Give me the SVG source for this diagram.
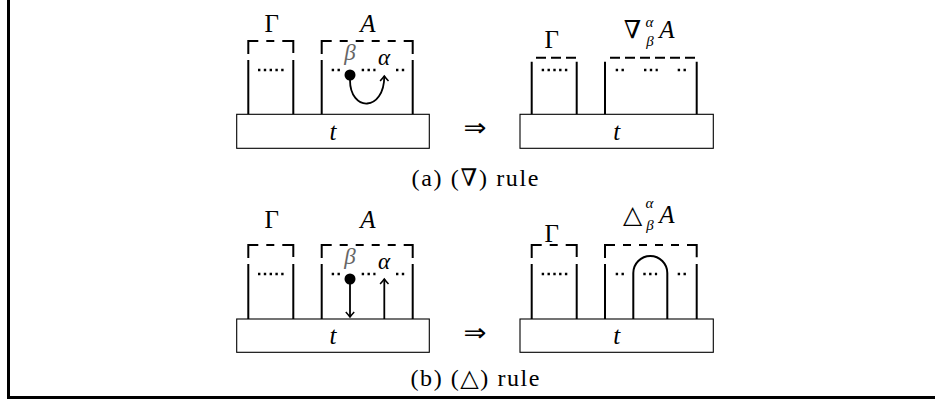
<svg xmlns="http://www.w3.org/2000/svg" width="935" height="411" viewBox="0 0 935 411">
<style>
.wire{stroke:#000;stroke-width:2;fill:none}
.box{fill:#fff;stroke:#000;stroke-width:1.1}
.dash{stroke:#000;stroke-width:2;fill:none}
.dots{stroke:#000;stroke-width:2.4;stroke-dasharray:2.4 3.4;fill:none}
.arr{stroke:#000;stroke-width:1.8;fill:none}
.t{font-family:"Liberation Serif","DejaVu Serif",serif;font-size:25px;text-anchor:middle;fill:#000}
.it{font-style:italic}
.gk{font-size:23px}
.sm{font-size:15px}
.cap{font-size:24px}
.sym{font-family:"DejaVu Serif","Liberation Serif",serif}
.gray{fill:#666}
.frame{stroke:#000;stroke-width:3;fill:none}
</style>
<defs>
<marker id="to" markerUnits="userSpaceOnUse" markerWidth="12" markerHeight="12" viewBox="-6 -6 12 12" refX="0" refY="0" orient="auto" overflow="visible">
<path d="M-5,-4.2 Q-1.5,-1 0,0 Q-1.5,1 -5,4.2" fill="none" stroke="#000" stroke-width="1.5"/>
</marker>
</defs>
<rect width="935" height="411" fill="#fff"/>
<path class="frame" d="M8.5,0 V397.5 H935"/>

<!-- (a) left -->
<g id="a-left-gamma">
<text class="t" x="271.7" y="32">Γ</text>
<path class="dash" d="M248.3,54 V41 H293.3 V54" stroke-dasharray="23 8 8 8 23"/>
<path class="wire" d="M248.3,60 V114.3 M293.3,60 V114.3"/>
<path class="dots" d="M258,70 H284.4"/>
</g>
<g id="a-left-A">
<text class="t it" x="368" y="32">A</text>
<path class="dash" d="M321.7,54 V41 H412.7 V54" stroke-dasharray="23 8 8 8 8 8 8 8 8 8 22"/>
<path class="wire" d="M321.7,60 V114.3 M412.7,60 V114.3"/>
<path class="dots" d="M331.7,70 H340.3 M361.7,70 H375.5 M396,70 H404.6"/>
<circle cx="350" cy="75" r="5.5" fill="#000"/>
<text class="t it gk gray" x="350" y="60">β</text>
<text class="t it gk" x="384" y="65">α</text>
</g>
<g id="a-left-t">
<rect class="box" x="236.7" y="114.3" width="192.6" height="34"/>
<text class="t it" x="333" y="139.5">t</text>
</g>
<text class="t" x="475" y="136" style="font-family:'DejaVu Sans',sans-serif" font-size="24" textLength="23" lengthAdjust="spacingAndGlyphs">⇒</text>

<!-- (a) right -->
<g id="a-right-gamma">
<text class="t" x="551.7" y="48.3">Γ</text>
<path class="dash" d="M536,57.7 H577" stroke-dasharray="10 5"/>
<path class="wire" d="M531.7,61.7 V114.3 M576.7,61.7 V114.3"/>
<path class="dots" d="M541.7,70 H567.3"/>
</g>
<g id="a-right-A">
<text class="t sym" x="632.5" y="38.3">∇</text>
<text class="t it sm" x="649.5" y="27">α</text>
<text class="t it sm" x="650" y="46">β</text>
<text class="t it" x="667" y="38.3">A</text>
<path class="dash" d="M610,57.7 H697" stroke-dasharray="10 5"/>
<path class="wire" d="M605,61.7 V114.3 M696.7,61.7 V114.3"/>
<path class="dots" d="M615.7,70 H624.3 M644,70 H657.8 M677.7,70 H686.3"/>
</g>
<g id="a-right-t">
<rect class="box" x="520" y="114.3" width="193.3" height="34"/>
<text class="t it" x="616.7" y="139.5">t</text>
</g>
<text class="t cap" x="475" y="186" textLength="127" lengthAdjust="spacing">(a) (<tspan class="sym">∇</tspan>) rule</text>

<!-- (b) left -->
<g id="b-left-gamma">
<text class="t" x="271.7" y="227.5">Γ</text>
<path class="dash" d="M248.3,258 V245 H293.3 V258" stroke-dasharray="23 8 8 8 23"/>
<path class="wire" d="M248.3,264 V319 M293.3,264 V319"/>
<path class="dots" d="M258,274 H284.4"/>
</g>
<g id="b-left-A">
<text class="t it" x="368" y="227.5">A</text>
<path class="dash" d="M321.7,258 V245 H412.7 V258" stroke-dasharray="23 8 8 8 8 8 8 8 8 8 22"/>
<path class="wire" d="M321.7,264 V319 M412.7,264 V319"/>
<path class="dots" d="M331.7,274 H340.3 M361.7,274 H375.5 M396,274 H404.6"/>
<circle cx="350" cy="279" r="5.5" fill="#000"/>
<text class="t it gk gray" x="350" y="264">β</text>
<text class="t it gk" x="384" y="269">α</text>
</g>
<g id="b-left-t">
<rect class="box" x="236.7" y="319" width="192.6" height="33.3"/>
<text class="t it" x="333" y="344">t</text>
</g>
<text class="t" x="475" y="341" style="font-family:'DejaVu Sans',sans-serif" font-size="24" textLength="23" lengthAdjust="spacingAndGlyphs">⇒</text>

<!-- (b) right -->
<g id="b-right-gamma">
<text class="t" x="551.7" y="241.7">Γ</text>
<path class="dash" d="M531.7,258 V245 H576.7 V258" stroke-dasharray="23 8 8 8 23"/>
<path class="wire" d="M531.7,264 V319 M576.7,264 V319"/>
<path class="dots" d="M541.7,274 H567.3"/>
</g>
<g id="b-right-A">
<text class="t sym" x="632.5" y="223.3">△</text>
<text class="t it sm" x="649.5" y="208">α</text>
<text class="t it sm" x="650" y="230">β</text>
<text class="t it" x="667" y="223.3">A</text>
<path class="dash" d="M605,258 V245 H696.7 V258" stroke-dasharray="23 8 8 8 8 8 8 8 8 8 22"/>
<path class="wire" d="M605,264 V319 M696.7,264 V319"/>
<path class="dots" d="M615.7,274 H624.3 M643.3,274 H657.1 M677.7,274 H686.3"/>
</g>
<g id="b-right-t">
<rect class="box" x="520" y="319" width="193.3" height="33.3"/>
<text class="t it" x="616.7" y="344">t</text>
</g>
<text class="t cap" x="475" y="386" textLength="129" lengthAdjust="spacing">(b) (<tspan class="sym">△</tspan>) rule</text>

<!-- connectors -->
<g id="connectors">
<path class="arr" d="M350,80 C350,112 384.3,112 384.3,76" marker-end="url(#to)"/>
<path class="arr" d="M350,284 V317" marker-end="url(#to)"/>
<path class="arr" d="M384.3,319 V279" marker-end="url(#to)"/>
<path class="wire" d="M633.3,319 V273 A17,17 0 0 1 667.3,273 V319"/>
</g>
</svg>
